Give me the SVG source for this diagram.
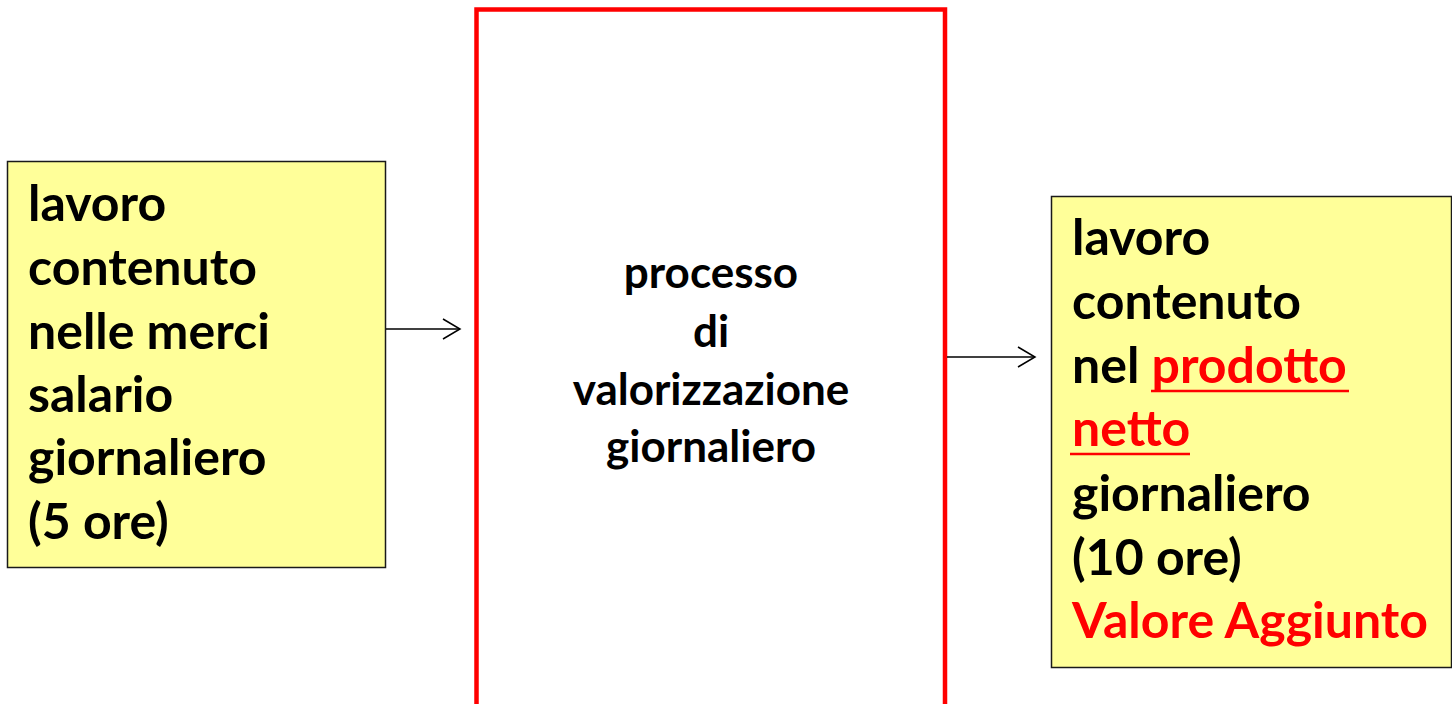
<svg xmlns="http://www.w3.org/2000/svg" width="1452" height="704" viewBox="0 0 1452 704">
  <style>
    .box { fill: #ffff99; stroke: #1a1a1a; stroke-width: 1.5; }
    .proc { fill: #ffffff; stroke: #ff0000; stroke-width: 4.5; }
    .t { font-family: Lato, "Liberation Sans", sans-serif; font-weight: 700; fill: #000000; }
    .big { font-size: 50px; }
    .mid { font-size: 44px; text-anchor: middle; }
    .red { fill: #ff0000; }
    .ul { stroke: #ff0000; stroke-width: 2.5; }
    .conn { stroke: #000000; stroke-width: 1.5; fill: none; }
  </style>
  <defs>
    <marker id="open" markerUnits="userSpaceOnUse" markerWidth="22" markerHeight="24" viewBox="0 0 22 24" refX="19" refY="12" orient="auto">
      <path d="M2,2 L19,12 L2,22" fill="none" stroke="#000000" stroke-width="1.5"/>
    </marker>
  </defs>

  <rect width="1452" height="704" fill="#ffffff"/>

  <!-- input: labour embodied in wage goods -->
  <g id="input">
    <rect class="box" x="7.5" y="161.5" width="378" height="406"/>
    <text class="t big" x="28" y="221">lavoro</text>
    <text class="t big" x="28" y="285">contenuto</text>
    <text class="t big" x="28" y="349">nelle merci</text>
    <text class="t big" x="28" y="412">salario</text>
    <text class="t big" x="28" y="475">giornaliero</text>
    <text class="t big" x="28" y="539">(5 ore)</text>
  </g>

  <!-- central valorisation process -->
  <g id="process">
    <rect class="proc" x="476.5" y="9.5" width="468.5" height="700"/>
    <text class="t mid" x="711" y="288">processo</text>
    <text class="t mid" x="711" y="347">di</text>
    <text class="t mid" x="711" y="405">valorizzazione</text>
    <text class="t mid" x="711" y="462">giornaliero</text>
  </g>

  <!-- output: labour embodied in the net product -->
  <g id="output">
    <rect class="box" x="1051.5" y="196.5" width="400" height="471"/>
    <text class="t big" x="1072" y="255">lavoro</text>
    <text class="t big" x="1072" y="319">contenuto</text>
    <text class="t big" x="1072" y="383">nel <tspan class="red">prodotto</tspan></text>
    <line class="ul" x1="1151" y1="391" x2="1349" y2="391"/>
    <text class="t big red" x="1072" y="446">netto</text>
    <line class="ul" x1="1070" y1="454" x2="1190" y2="454"/>
    <text class="t big" x="1072" y="511">giornaliero</text>
    <text class="t big" x="1072" y="575">(10 ore)</text>
    <text class="t big red" x="1072" y="638">Valore Aggiunto</text>
  </g>

  <g id="connectors">
    <line class="conn" x1="386" y1="329" x2="460" y2="329" marker-end="url(#open)"/>
    <line class="conn" x1="947" y1="357" x2="1035" y2="357" marker-end="url(#open)"/>
  </g>
</svg>
